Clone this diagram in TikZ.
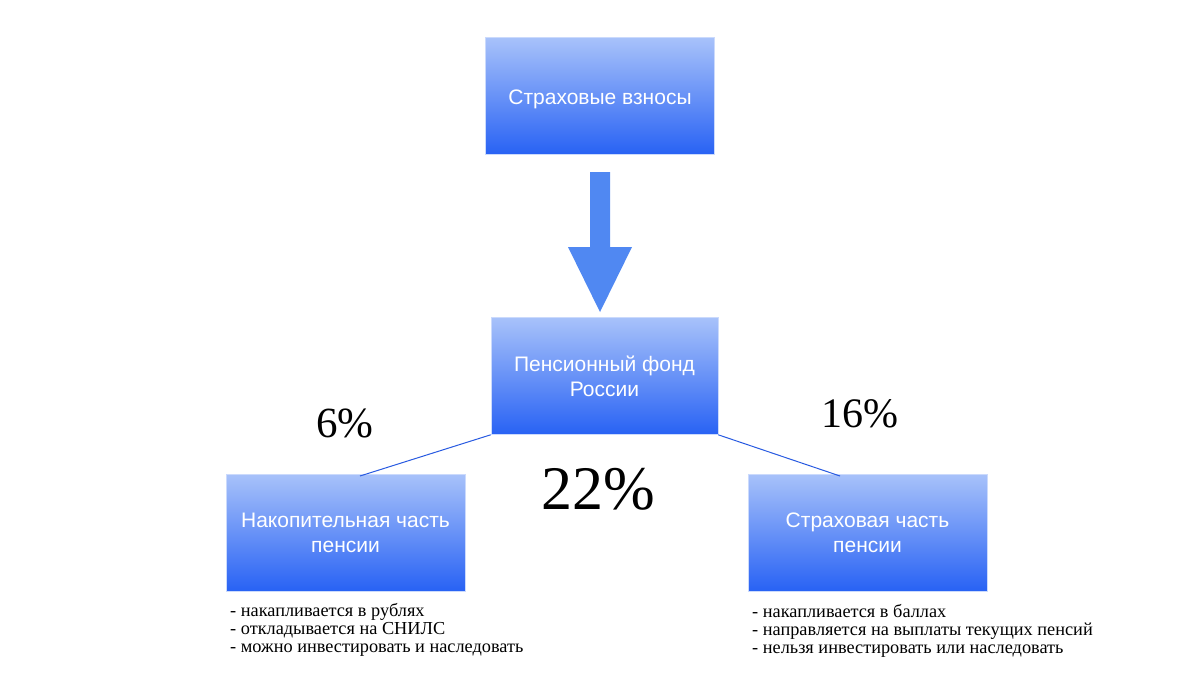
\documentclass[tikz,border=0pt]{standalone}
\usepackage{fontspec}
\setmainfont{Liberation Serif}
\newfontfamily\boxfont{Liberation Sans}
\definecolor{boxtop}{RGB}{168,194,250}
\definecolor{boxbot}{RGB}{40,98,244}
\definecolor{arrowblue}{RGB}{80,136,242}
\definecolor{linkblue}{RGB}{40,90,225}
\begin{document}
\begin{tikzpicture}[x=1pt,y=-1pt,
  bluebox/.style={rectangle, inner sep=0pt, top color=boxtop, bottom color=boxbot, draw=boxtop!60!white, line width=0.6pt, text=white, font=\boxfont\fontsize{21}{25}\selectfont, align=center},
  link/.style={draw=linkblue, line width=1pt},
  pct/.style={font=\fontsize{#1}{#1}\selectfont, text=black},
  notes/.style={font=\fontsize{18.3}{18}\selectfont, align=left, anchor=north west, inner sep=0pt}]
\useasboundingbox[fill=white] (0,0) rectangle (1200,675);
\node[bluebox, minimum width=229pt, minimum height=117pt, text depth=0pt] (top) at (600,96) {\raisebox{-2pt}{Страховые взносы}};
\node[bluebox, minimum width=227pt, minimum height=117pt] (pfr) at (604.5,376) {Пенсионный фонд\\России};
\node[bluebox, minimum width=239pt, minimum height=117pt] (left) at (345.5,532.5) {Накопительная часть\\пенсии};
\node[bluebox, minimum width=239pt, minimum height=117pt] (right) at (867.5,532.5) {Страховая часть\\пенсии};
% big arrow
\fill[arrowblue] (590,172) -- (610,172) -- (610,247) -- (632,247) -- (600,312) -- (568,247) -- (590,247) -- cycle;
\coordinate (lend) at (360,476);
\coordinate (rend) at (840,476);
\draw[link] (pfr.south west) -- (lend);
\draw[link] (pfr.south east) -- (rend);
\node[pct=43] (p6) at (345,423) {6\%};
\node[pct=42] (p16) at (860,414) {16\%};
\node[pct=62] (p22) at (598,489) {22\%};
\node[notes] (nl) at (230,603) {- накапливается в рублях\\- откладывается на СНИЛС\\- можно инвестировать и наследовать};
\node[notes] (nr) at (752,604) {- накапливается в баллах\\- направляется на выплаты текущих пенсий\\- нельзя инвестировать или наследовать};
\end{tikzpicture}
\end{document}
